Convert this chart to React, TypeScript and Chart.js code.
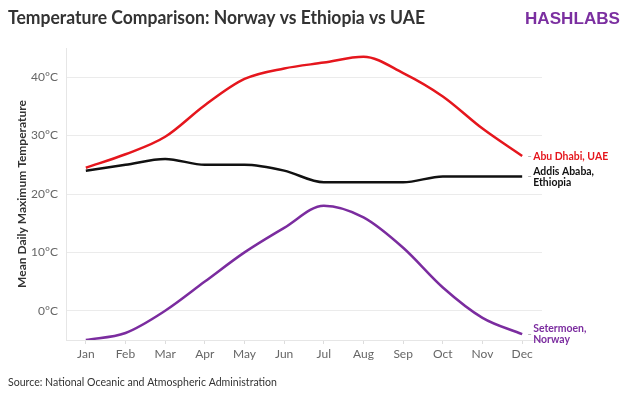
import React, { useEffect, useRef } from 'react';
import { Chart, registerables } from 'chart.js';

Chart.register(...registerables);

const months = ['Jan', 'Feb', 'Mar', 'Apr', 'May', 'Jun', 'Jul', 'Aug', 'Sep', 'Oct', 'Nov', 'Dec'];
const abuDhabi = [24.5, 26.8, 29.8, 35.2, 39.7, 41.5, 42.5, 43.5, 40.7, 36.7, 31.2, 26.5];
const addisAbaba = [24, 25, 26, 25, 25, 24, 22, 22, 22, 23, 23, 23];
const setermoen = [-5, -3.8, 0, 5, 10, 14.2, 18, 16, 10.8, 4, -1.2, -4];
const yTickValues = [0, 10, 20, 30, 40];
const seriesLabels = [['Abu Dhabi, UAE'], ['Addis Ababa,', 'Ethiopia'], ['Setermoen,', 'Norway']];
const seriesColors = ['#e5161d', '#111111', '#7b2c9f'];

const titleText = 'Temperature Comparison: Norway vs Ethiopia vs UAE';
const sourceText = 'Source: National Oceanic and Atmospheric Administration';
const logoText = 'HASHLABS';
const yAxisTitle = 'Mean Daily Maximum Temperature';

const FONT = 'Lato, "Noto Sans", sans-serif';

function fitText(ctx: CanvasRenderingContext2D, text: string, x: number, y: number, width: number, weight: string, size: number, family: string, color: string) {
  ctx.save();
  ctx.font = `${weight} ${size}px ${family}`;
  const w = ctx.measureText(text).width;
  ctx.fillStyle = color;
  ctx.textAlign = 'left';
  ctx.textBaseline = 'alphabetic';
  ctx.translate(x, y);
  ctx.scale(width / w, 1);
  ctx.fillText(text, 0, 0);
  ctx.restore();
}

const decorPlugin = {
  id: 'decor',
  afterDraw(chart: any) {
    const ctx: CanvasRenderingContext2D = chart.ctx;
    ctx.save();
    fitText(ctx, titleText, 8, 24, 417, 'bold', 18, FONT, '#333333');
    fitText(ctx, logoText, 525, 24, 95, 'bold', 16.5, '"Liberation Sans", Arial, sans-serif', '#7b2fa0');
    fitText(ctx, sourceText, 8, 386, 269, 'normal', 11.5, FONT, '#333333');

    const xs = chart.scales.x;
    const ys = chart.scales.y;
    const xEnd = xs.getPixelForValue(months.length - 1);
    ctx.font = `bold 11.5px ${FONT}`;
    const k = 75 / ctx.measureText(seriesLabels[0][0]).width;
    chart.data.datasets.forEach((ds: any, i: number) => {
      const last = ds.data[ds.data.length - 1];
      const y = ys.getPixelForValue(last);
      ctx.strokeStyle = '#bbbbbb';
      ctx.lineWidth = 1;
      ctx.beginPath();
      ctx.moveTo(xEnd + 6, Math.round(y) + 0.5);
      ctx.lineTo(xEnd + 9, Math.round(y) + 0.5);
      ctx.stroke();
      const lines = seriesLabels[i];
      const lh = 11;
      ctx.save();
      ctx.font = `bold 11.5px ${FONT}`;
      ctx.fillStyle = seriesColors[i];
      ctx.textAlign = 'left';
      ctx.textBaseline = 'middle';
      const start = y - ((lines.length - 1) * lh) / 2;
      ctx.translate(xEnd + 11, 0);
      ctx.scale(k, 1);
      lines.forEach((ln, j) => ctx.fillText(ln, 0, start + j * lh));
      ctx.restore();
    });
    ctx.restore();
  },
};

export default function App() {
  const ref = useRef<HTMLCanvasElement | null>(null);
  useEffect(() => {
    if (!ref.current) return;
    const mk = (label: string, data: number[], color: string) => ({
      label,
      data,
      borderColor: color,
      backgroundColor: color,
      borderWidth: 2.5,
      pointRadius: 0,
      cubicInterpolationMode: 'monotone' as const,
      fill: false,
    });
    const chart = new Chart(ref.current, {
      type: 'line',
      data: {
        labels: months,
        datasets: [
          mk('Abu Dhabi, UAE', abuDhabi, seriesColors[0]),
          mk('Addis Ababa, Ethiopia', addisAbaba, seriesColors[1]),
          mk('Setermoen, Norway', setermoen, seriesColors[2]),
        ],
      },
      options: {
        responsive: false,
        animation: false,
        devicePixelRatio: 1,
        layout: { padding: { left: 8, right: 98, top: 48, bottom: 0 } },
        plugins: { legend: { display: false }, tooltip: { enabled: false }, title: { display: false } },
        scales: {
          x: {
            offset: true,
            grid: { drawOnChartArea: false, tickLength: 4, color: '#dddddd' },
            border: { color: '#e6e6e6' },
            ticks: { color: '#666666', padding: 3, font: { family: FONT, size: 12 } },
            afterFit: (s: any) => { s.height = 58; },
          },
          y: {
            min: -5,
            max: 45,
            afterBuildTicks: (s: any) => { s.ticks = yTickValues.map((v) => ({ value: v })); },
            grid: { color: '#ebebeb', drawTicks: false },
            border: { color: '#e6e6e6' },
            ticks: {
              color: '#666666',
              padding: 8,
              font: { family: FONT, size: 12 },
              callback: (v: any) => `${v}°C`,
            },
            title: {
              display: true,
              text: yAxisTitle,
              color: '#333333',
              font: { family: FONT, size: 12, weight: 'bold' },
              padding: { top: 7, bottom: 0 },
            },
            afterFit: (s: any) => { s.width = 58; },
          },
        },
      },
      plugins: [decorPlugin],
    });
    return () => chart.destroy();
  }, []);
  return (
    <div style={{ position: 'absolute', left: 0, top: 0, width: 640, height: 398, background: '#fff' }}>
      <canvas ref={ref} width={640} height={398} style={{ display: 'block' }} />
    </div>
  );
}
